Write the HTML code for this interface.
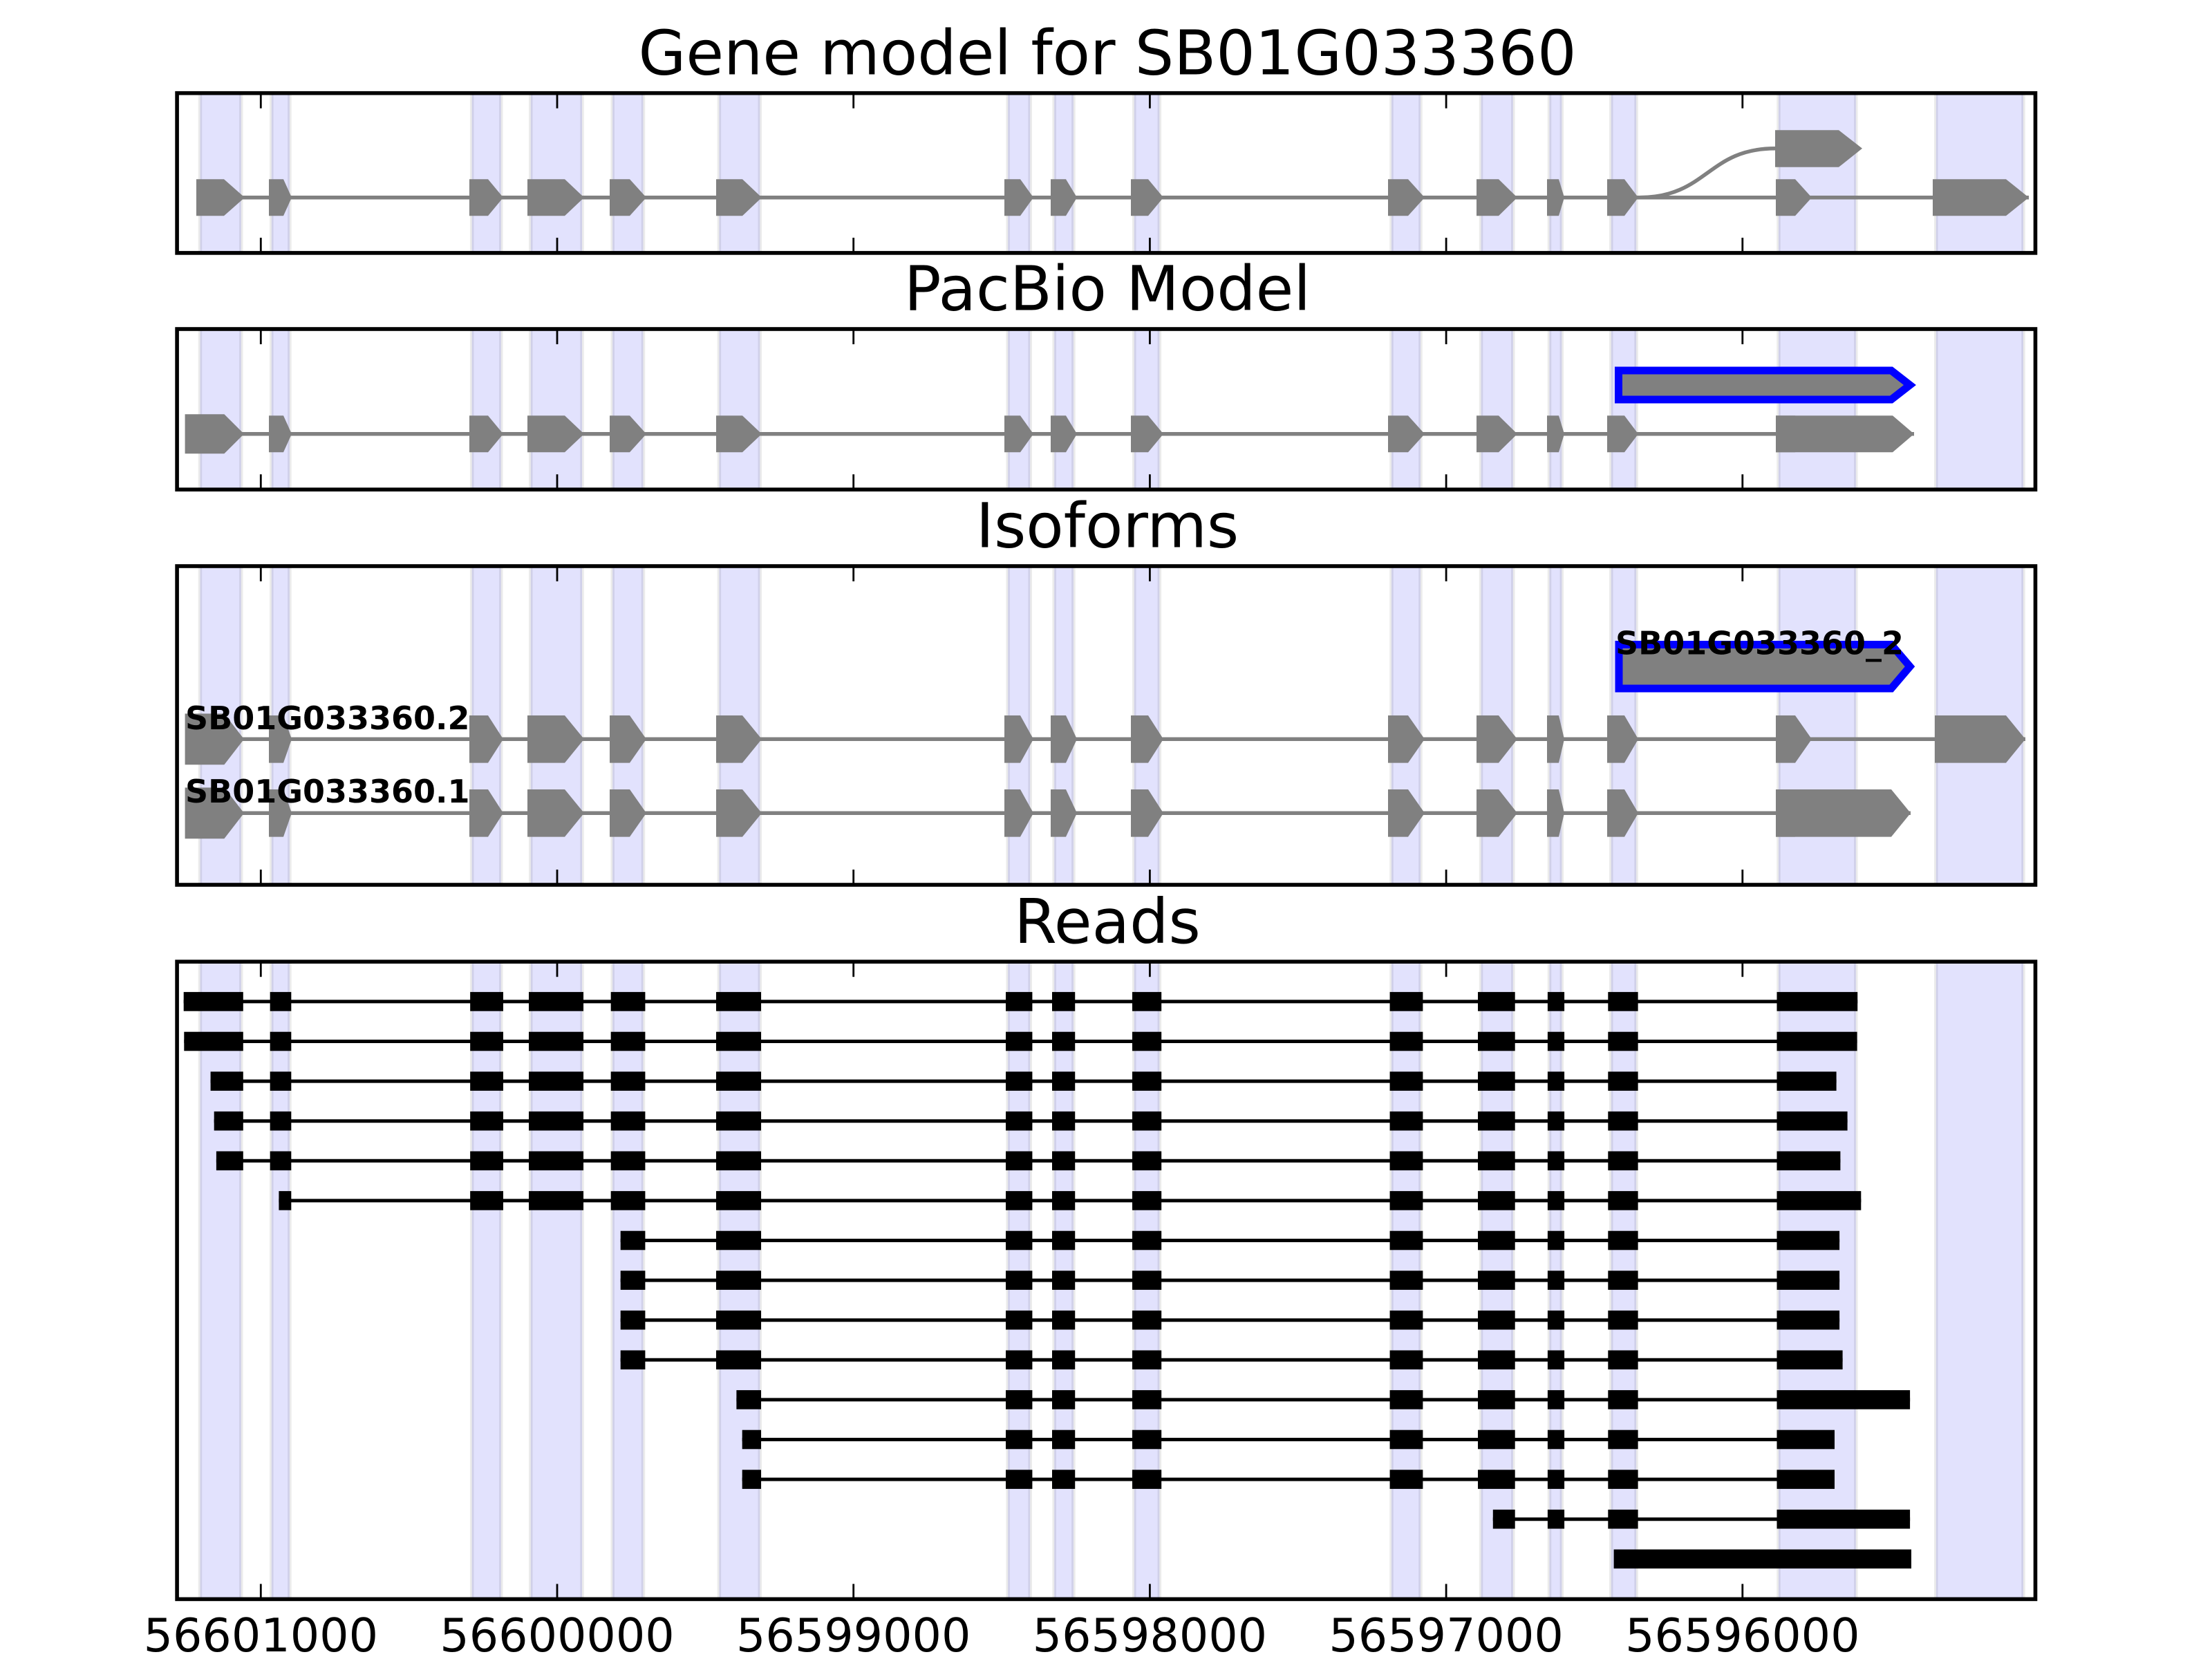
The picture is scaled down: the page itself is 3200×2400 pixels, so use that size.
<!DOCTYPE html>
<html><head><meta charset="utf-8"><style>html,body{margin:0;padding:0;background:#fff}svg{display:block}</style></head>
<body>
<svg xmlns="http://www.w3.org/2000/svg" xmlns:xlink="http://www.w3.org/1999/xlink" width="3200" height="2400" viewBox="0 0 3200 2400" font-family="'DejaVu Sans','Liberation Sans',sans-serif">
<rect x="0" y="0" width="3200" height="2400" fill="#fff"/>
<defs>
<clipPath id="c1"><rect x="256.1" y="134.7" width="2688.4" height="231.2"/></clipPath>
<clipPath id="c2"><rect x="256.1" y="476" width="2688.4" height="232.2"/></clipPath>
<clipPath id="c3"><rect x="256.1" y="819" width="2688.4" height="461"/></clipPath>
<clipPath id="c4"><rect x="256.1" y="1391.2" width="2688.4" height="922.2"/></clipPath>
<g id="bands" fill="#e2e2fd" stroke="#000" stroke-opacity="0.08" stroke-width="5.5">
<rect x="289.5" y="0" width="59.3" height="2400"/>
<rect x="392.8" y="0" width="26.1" height="2400"/>
<rect x="682.7" y="0" width="42.1" height="2400"/>
<rect x="767.8" y="0" width="74.2" height="2400"/>
<rect x="886.2" y="0" width="44.3" height="2400"/>
<rect x="1040.4" y="0" width="58.9" height="2400"/>
<rect x="1458.2" y="0" width="32" height="2400"/>
<rect x="1525.2" y="0" width="27.7" height="2400"/>
<rect x="1640.8" y="0" width="36.5" height="2400"/>
<rect x="2013" y="0" width="42" height="2400"/>
<rect x="2142.6" y="0" width="46.2" height="2400"/>
<rect x="2241.5" y="0" width="17.8" height="2400"/>
<rect x="2330.8" y="0" width="36.3" height="2400"/>
<rect x="2573" y="0" width="111.8" height="2400"/>
<rect x="2800.8" y="0" width="126.2" height="2400"/>
</g>
<g id="ex" fill="#808080">
<polygon points="389,-26.5 410,-26.5 422,0 410,26.5 389,26.5"/>
<polygon points="679,-26.5 706,-26.5 728,0 706,26.5 679,26.5"/>
<polygon points="763,-26.5 817,-26.5 845,0 817,26.5 763,26.5"/>
<polygon points="882,-26.5 911,-26.5 935,0 911,26.5 882,26.5"/>
<polygon points="1036,-26.5 1074,-26.5 1102,0 1074,26.5 1036,26.5"/>
<polygon points="1453,-26.5 1476,-26.5 1495,0 1476,26.5 1453,26.5"/>
<polygon points="1520,-26.5 1542,-26.5 1558,0 1542,26.5 1520,26.5"/>
<polygon points="1636,-26.5 1661,-26.5 1683,0 1661,26.5 1636,26.5"/>
<polygon points="2008,-26.5 2037,-26.5 2061,0 2037,26.5 2008,26.5"/>
<polygon points="2136,-26.5 2168,-26.5 2195,0 2168,26.5 2136,26.5"/>
<polygon points="2238,-26.5 2255,-26.5 2263,0 2255,26.5 2238,26.5"/>
<polygon points="2325,-26.5 2350,-26.5 2370,0 2350,26.5 2325,26.5"/>
<polygon points="2569,-26.5 2597,-26.5 2621,0 2597,26.5 2569,26.5"/>
</g>
<polygon id="first" fill="#808080" points="267.6,-28.5 324.4,-28.5 353,0 324.4,28.5 267.6,28.5"/>
<g id="tt" stroke="#000" stroke-width="2.8">
<line x1="377.3" y1="0" x2="377.3" y2="22"/>
<line x1="806" y1="0" x2="806" y2="22"/>
<line x1="1234.7" y1="0" x2="1234.7" y2="22"/>
<line x1="1663.4" y1="0" x2="1663.4" y2="22"/>
<line x1="2092.1" y1="0" x2="2092.1" y2="22"/>
<line x1="2520.8" y1="0" x2="2520.8" y2="22"/>
</g>
<g id="tb" stroke="#000" stroke-width="2.8">
<line x1="377.3" y1="-22" x2="377.3" y2="0"/>
<line x1="806" y1="-22" x2="806" y2="0"/>
<line x1="1234.7" y1="-22" x2="1234.7" y2="0"/>
<line x1="1663.4" y1="-22" x2="1663.4" y2="0"/>
<line x1="2092.1" y1="-22" x2="2092.1" y2="0"/>
<line x1="2520.8" y1="-22" x2="2520.8" y2="0"/>
</g>
<g id="rm" fill="#000">
<rect x="1455" y="-13.8" width="38.4" height="27.6"/>
<rect x="1522" y="-13.8" width="33.2" height="27.6"/>
<rect x="1638" y="-13.8" width="42.2" height="27.6"/>
<rect x="2010.6" y="-13.8" width="47.8" height="27.6"/>
<rect x="2138" y="-13.8" width="53.7" height="27.6"/>
<rect x="2238.9" y="-13.8" width="24.2" height="27.6"/>
<rect x="2326.3" y="-13.8" width="43.3" height="27.6"/>
</g>
<g id="rl" fill="#000">
<rect x="680.2" y="-13.8" width="47.8" height="27.6"/>
<rect x="765" y="-13.8" width="79" height="27.6"/>
<rect x="883.7" y="-13.8" width="49.7" height="27.6"/>
<rect x="1036" y="-13.8" width="65" height="27.6"/>
</g>
</defs>

<!-- Titles -->
<g font-size="88.9" text-anchor="middle" fill="#000">
<text x="1602" y="107.3">Gene model for SB01G033360</text>
<text x="1602" y="448.6">PacBio Model</text>
<text x="1602" y="791.6">Isoforms</text>
<text x="1602" y="1363.8">Reads</text>
</g>

<!-- Panel 1 -->
<use xlink:href="#bands" href="#bands" clip-path="url(#c1)"/>
<g>
<line x1="284" y1="285.7" x2="2935" y2="285.7" stroke="#808080" stroke-width="5.5"/>
<path d="M2371,285.7 C2470,285.7 2470,214.8 2568,214.8" fill="none" stroke="#808080" stroke-width="5.5"/>
<use xlink:href="#ex" href="#ex" transform="translate(0,285.7)"/>
<polygon fill="#808080" points="284,259.2 324,259.2 354,285.7 324,312.3 284,312.3"/>
<polygon fill="#808080" points="2796,259.2 2902,259.2 2935,285.7 2902,312.3 2796,312.3"/>
<polygon fill="#808080" points="2568,188.3 2660,188.3 2694,214.8 2660,241.8 2568,241.8"/>
</g>
<use xlink:href="#tt" href="#tt" transform="translate(0,134.7)"/>
<use xlink:href="#tb" href="#tb" transform="translate(0,365.9)"/>
<rect x="256.1" y="134.7" width="2688.4" height="231.2" fill="none" stroke="#000" stroke-width="5.6"/>

<!-- Panel 2 -->
<use xlink:href="#bands" href="#bands" clip-path="url(#c2)"/>
<g>
<line x1="268" y1="627.8" x2="2769" y2="627.8" stroke="#808080" stroke-width="5.5"/>
<use xlink:href="#ex" href="#ex" transform="translate(0,627.8)"/>
<use xlink:href="#first" href="#first" transform="translate(0,627.8)"/>
<polygon fill="#808080" points="2569,601.2 2738,601.2 2769,627.8 2738,654.3 2569,654.3"/>
<polygon fill="#808080" stroke="#0000ff" stroke-width="11" points="2341.5,536 2736,536 2763,557 2736,578 2341.5,578"/>
</g>
<use xlink:href="#tt" href="#tt" transform="translate(0,476)"/>
<use xlink:href="#tb" href="#tb" transform="translate(0,708.2)"/>
<rect x="256.1" y="476" width="2688.4" height="232.2" fill="none" stroke="#000" stroke-width="5.6"/>

<!-- Panel 3 -->
<use xlink:href="#bands" href="#bands" clip-path="url(#c3)"/>
<g>
<line x1="268" y1="1069.3" x2="2930" y2="1069.3" stroke="#808080" stroke-width="5.5"/>
<line x1="268" y1="1176.3" x2="2764" y2="1176.3" stroke="#808080" stroke-width="5.5"/>
<use xlink:href="#ex" href="#ex" transform="translate(0,1069.3) scale(1,1.296)"/>
<use xlink:href="#first" href="#first" transform="translate(0,1069.3) scale(1,1.296)"/>
<polygon fill="#808080" points="2799,1035 2902,1035 2930,1069.3 2902,1103.6 2799,1103.6"/>
<use xlink:href="#ex" href="#ex" transform="translate(0,1176.3) scale(1,1.296)"/>
<use xlink:href="#first" href="#first" transform="translate(0,1176.3) scale(1,1.296)"/>
<polygon fill="#808080" points="2569,1142 2736,1142 2764,1176.3 2736,1210.6 2569,1210.6"/>
<polygon fill="#808080" stroke="#0000ff" stroke-width="11" points="2342,932.5 2736,932.5 2763,964.3 2736,996 2342,996"/>
</g>
<g font-size="46" font-weight="bold" fill="#000">
<text x="268" y="1055">SB01G033360.2</text>
<text x="268" y="1161">SB01G033360.1</text>
<text x="2337" y="946.7">SB01G033360_2</text>
</g>
<use xlink:href="#tt" href="#tt" transform="translate(0,819)"/>
<use xlink:href="#tb" href="#tb" transform="translate(0,1280)"/>
<rect x="256.1" y="819" width="2688.4" height="461" fill="none" stroke="#000" stroke-width="5.6"/>

<!-- Panel 4 -->
<use xlink:href="#bands" href="#bands" clip-path="url(#c4)"/>
<g stroke="#000" stroke-width="5">
<line x1="265.7" y1="1448.9" x2="2687.2" y2="1448.9"/>
<line x1="266.3" y1="1506.5" x2="2686.6" y2="1506.5"/>
<line x1="304.6" y1="1564.1" x2="2656.6" y2="1564.1"/>
<line x1="309.7" y1="1621.7" x2="2672.6" y2="1621.7"/>
<line x1="312.9" y1="1679.3" x2="2662.4" y2="1679.3"/>
<line x1="403.4" y1="1736.9" x2="2692.3" y2="1736.9"/>
<line x1="897.7" y1="1794.5" x2="2661.1" y2="1794.5"/>
<line x1="897.7" y1="1852.1" x2="2661.1" y2="1852.1"/>
<line x1="897.7" y1="1909.7" x2="2661.1" y2="1909.7"/>
<line x1="897.7" y1="1967.3" x2="2665.6" y2="1967.3"/>
<line x1="1065.4" y1="2024.9" x2="2763.1" y2="2024.9"/>
<line x1="1073.7" y1="2082.5" x2="2654" y2="2082.5"/>
<line x1="1073.7" y1="2140.1" x2="2654" y2="2140.1"/>
<line x1="2159.8" y1="2197.7" x2="2763.1" y2="2197.7"/>
</g>
<g fill="#000">
<g transform="translate(0,1448.9)"><rect x="265.7" y="-13.8" width="86.1" height="27.6"/><rect x="390.7" y="-13.8" width="30.6" height="27.6"/><use xlink:href="#rl" href="#rl"/><use xlink:href="#rm" href="#rm"/><rect x="2570.5" y="-13.8" width="116.7" height="27.6"/></g>
<g transform="translate(0,1506.5)"><rect x="266.3" y="-13.8" width="85.5" height="27.6"/><rect x="390.7" y="-13.8" width="30.6" height="27.6"/><use xlink:href="#rl" href="#rl"/><use xlink:href="#rm" href="#rm"/><rect x="2570.5" y="-13.8" width="116.1" height="27.6"/></g>
<g transform="translate(0,1564.1)"><rect x="304.6" y="-13.8" width="47.2" height="27.6"/><rect x="390.7" y="-13.8" width="30.6" height="27.6"/><use xlink:href="#rl" href="#rl"/><use xlink:href="#rm" href="#rm"/><rect x="2570.5" y="-13.8" width="86.1" height="27.6"/></g>
<g transform="translate(0,1621.7)"><rect x="309.7" y="-13.8" width="42.1" height="27.6"/><rect x="390.7" y="-13.8" width="30.6" height="27.6"/><use xlink:href="#rl" href="#rl"/><use xlink:href="#rm" href="#rm"/><rect x="2570.5" y="-13.8" width="102.1" height="27.6"/></g>
<g transform="translate(0,1679.3)"><rect x="312.9" y="-13.8" width="38.9" height="27.6"/><rect x="390.7" y="-13.8" width="30.6" height="27.6"/><use xlink:href="#rl" href="#rl"/><use xlink:href="#rm" href="#rm"/><rect x="2570.5" y="-13.8" width="91.9" height="27.6"/></g>
<g transform="translate(0,1736.9)"><rect x="403.4" y="-13.8" width="17.9" height="27.6"/><use xlink:href="#rl" href="#rl"/><use xlink:href="#rm" href="#rm"/><rect x="2570.5" y="-13.8" width="121.8" height="27.6"/></g>
<g transform="translate(0,1794.5)"><rect x="897.7" y="-13.8" width="35.7" height="27.6"/><rect x="1036" y="-13.8" width="65" height="27.6"/><use xlink:href="#rm" href="#rm"/><rect x="2570.5" y="-13.8" width="90.6" height="27.6"/></g>
<g transform="translate(0,1852.1)"><rect x="897.7" y="-13.8" width="35.7" height="27.6"/><rect x="1036" y="-13.8" width="65" height="27.6"/><use xlink:href="#rm" href="#rm"/><rect x="2570.5" y="-13.8" width="90.6" height="27.6"/></g>
<g transform="translate(0,1909.7)"><rect x="897.7" y="-13.8" width="35.7" height="27.6"/><rect x="1036" y="-13.8" width="65" height="27.6"/><use xlink:href="#rm" href="#rm"/><rect x="2570.5" y="-13.8" width="90.6" height="27.6"/></g>
<g transform="translate(0,1967.3)"><rect x="897.7" y="-13.8" width="35.7" height="27.6"/><rect x="1036" y="-13.8" width="65" height="27.6"/><use xlink:href="#rm" href="#rm"/><rect x="2570.5" y="-13.8" width="95.1" height="27.6"/></g>
<g transform="translate(0,2024.9)"><rect x="1065.4" y="-13.8" width="35.6" height="27.6"/><use xlink:href="#rm" href="#rm"/><rect x="2570.5" y="-13.8" width="192.6" height="27.6"/></g>
<g transform="translate(0,2082.5)"><rect x="1073.7" y="-13.8" width="27.3" height="27.6"/><use xlink:href="#rm" href="#rm"/><rect x="2570.5" y="-13.8" width="83.5" height="27.6"/></g>
<g transform="translate(0,2140.1)"><rect x="1073.7" y="-13.8" width="27.3" height="27.6"/><use xlink:href="#rm" href="#rm"/><rect x="2570.5" y="-13.8" width="83.5" height="27.6"/></g>
<g transform="translate(0,2197.7)"><rect x="2159.8" y="-13.8" width="31.9" height="27.6"/><rect x="2238.9" y="-13.8" width="24.2" height="27.6"/><rect x="2326.3" y="-13.8" width="43.3" height="27.6"/><rect x="2570.5" y="-13.8" width="192.6" height="27.6"/></g>
<g transform="translate(0,2255.3)"><rect x="2334.6" y="-13.8" width="430.4" height="27.6"/></g>
</g>
<use xlink:href="#tt" href="#tt" transform="translate(0,1391.2)"/>
<use xlink:href="#tb" href="#tb" transform="translate(0,2313.4)"/>
<rect x="256.1" y="1391.2" width="2688.4" height="922.2" fill="none" stroke="#000" stroke-width="5.6"/>

<!-- Tick labels -->
<g font-size="66.7" text-anchor="middle" fill="#000">
<text x="377.3" y="2389">56601000</text>
<text x="806" y="2389">56600000</text>
<text x="1234.7" y="2389">56599000</text>
<text x="1663.4" y="2389">56598000</text>
<text x="2092.1" y="2389">56597000</text>
<text x="2520.8" y="2389">56596000</text>
</g>
</svg>
</body></html>
